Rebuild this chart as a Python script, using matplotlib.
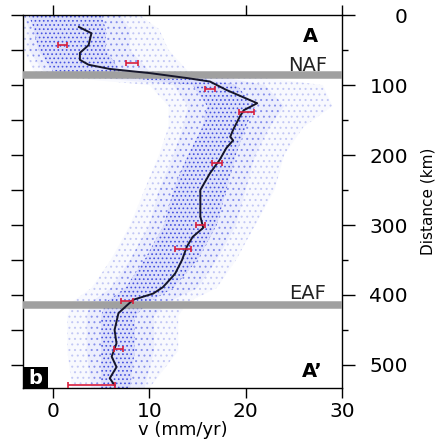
"""
Perfil de velocidad a lo largo del corte A-A' (panel b)
"""

import matplotlib.pyplot as plt
from matplotlib.patches import Rectangle
from matplotlib.ticker import MultipleLocator

plt.rcParams['font.family'] = ['DejaVu Sans']
plt.rcParams['hatch.linewidth'] = 0.7

# Perfil medio (v en mm/yr, distancia en km)
perfil_dist = [17, 26, 43, 54, 64, 71, 77, 83, 90, 95, 107, 126, 136, 145, 164,
               174, 179, 190, 207, 226, 250, 288, 304, 317, 331, 350, 369, 374,
               389, 398, 407, 426, 450, 469, 488, 503, 519, 529]
perfil_v = [2.7, 4.0, 3.7, 2.8, 2.8, 3.7, 5.9, 10.1, 13.9, 16.3, 18.0, 21.2, 19.8,
            19.4, 18.7, 18.4, 18.7, 18.0, 17.3, 16.3, 15.3, 15.3, 15.6, 14.5, 13.9,
            13.4, 12.7, 12.4, 11.4, 10.4, 8.3, 6.8, 6.4, 6.6, 6.1, 6.6, 5.9, 6.4]

# Medias con barras de error
err_dist = [43, 69, 106, 139, 211, 300, 334, 409, 477, 529]
err_v = [1.0, 8.2, 16.3, 20.1, 17.0, 15.3, 13.5, 7.7, 6.8, 4.0]
err_xerr = [0.5, 0.6, 0.5, 0.8, 0.5, 0.5, 0.8, 0.6, 0.5, 2.4]

# Extension de la nube de observaciones: nucleo, zona media y envolvente
nube_dist = [0, 20, 50, 80, 90, 100, 130, 160, 200, 250, 300, 350, 390, 410, 430, 480, 533]
nucleo_min = [-2.5, -2.0, -1.5, 0.0, 8.0, 14.5, 16.0, 15.5, 14.0, 12.5, 11.5, 9.5, 7.5, 5.5, 5.0, 5.0, 5.0]
nucleo_max = [5.0, 5.5, 5.5, 7.0, 15.0, 19.0, 21.0, 20.0, 19.0, 18.0, 17.0, 15.0, 12.5, 10.0, 8.5, 8.5, 8.0]
medio_min = [-3.0, -2.5, -2.5, -1.0, 5.0, 12.5, 14.0, 13.5, 12.5, 11.0, 10.0, 8.0, 6.0, 4.0, 3.5, 3.5, 4.0]
medio_max = [7.0, 8.0, 8.0, 10.0, 18.0, 22.0, 24.0, 22.5, 21.0, 20.0, 19.0, 17.0, 15.0, 12.0, 10.5, 10.5, 9.5]
envol_min = [-3.0, -3.0, -3.0, -2.0, 2.0, 10.0, 12.0, 12.0, 11.0, 9.5, 8.0, 6.0, 4.0, 2.0, 1.5, 1.5, 2.0]
envol_max = [9.0, 11.0, 12.0, 14.0, 22.0, 28.0, 29.0, 26.0, 24.0, 23.0, 21.0, 19.0, 17.0, 14.0, 13.0, 13.0, 10.0]

# Fallas
fallas = {'NAF': 86, 'EAF': 414}
etiqueta_falla = {'NAF': 72, 'EAF': 398}

fig = plt.figure(figsize=(4.43, 4.43), dpi=100)
ax = fig.add_axes([0.052, 0.124, 0.720, 0.842])

# Nube de puntos como punteado azul, mas denso hacia el centro
ax.fill_betweenx(nube_dist, envol_min, envol_max, facecolor='#f8f9fe',
                 edgecolor='#c2c7f4', hatch='...', linewidth=0, zorder=1)
ax.fill_betweenx(nube_dist, medio_min, medio_max, facecolor='#eceefd',
                 edgecolor='#8790ec', hatch='...', linewidth=0, zorder=1.5)
ax.fill_betweenx(nube_dist, nucleo_min, nucleo_max, facecolor='#dcdffb',
                 edgecolor='#4652e0', hatch='....', linewidth=0, zorder=2)

# Fallas
for nombre, d in fallas.items():
    ax.axhline(d, color='#a0a0a0', linewidth=5.4, zorder=3)
    ax.text(26.4, etiqueta_falla[nombre], nombre, fontsize=14, ha='center',
            va='center', color='#222222', zorder=4)

ax.plot(perfil_v, perfil_dist, color='#15152a', linewidth=1.4, zorder=5)
ax.errorbar(err_v, err_dist, xerr=err_xerr, fmt='none', ecolor='#d81e3c',
            elinewidth=1.2, capsize=2.5, capthick=1.2, zorder=6)

ax.text(26.7, 31, 'A', fontsize=14, fontweight='bold', ha='center', va='center')
ax.text(26.9, 510, 'A\u2019', fontsize=14, fontweight='bold', ha='center', va='center')

# Recuadro con la letra del panel
ax.add_patch(Rectangle((-3.1, 503), 2.6, 30, facecolor='black', edgecolor='none',
                       zorder=7, clip_on=False))
ax.text(-1.8, 519, 'b', fontsize=14, fontweight='bold', color='white',
        ha='center', va='center', zorder=8)

ax.set_xlim(-3.1, 30)
ax.set_ylim(533, 0)
ax.set_xticks([0, 10, 20, 30])
ax.yaxis.set_major_locator(MultipleLocator(100))
ax.yaxis.set_minor_locator(MultipleLocator(50))
ax.tick_params(axis='x', which='both', direction='out', top=True, labeltop=False,
               length=7, width=1, labelsize=14.5, pad=3)
ax.tick_params(axis='y', which='both', direction='out', left=True, right=True,
               labelleft=False, labelright=True, width=1)
ax.tick_params(axis='y', which='major', length=9.5, labelsize=14.5, pad=38)
ax.tick_params(axis='y', which='minor', length=4.5)
for lbl in ax.get_yticklabels():
    lbl.set_horizontalalignment('right')
ax.set_xlabel('v (mm/yr)', fontsize=13, labelpad=0)
ax.yaxis.set_label_position('right')
ax.set_ylabel('Distance (km)', fontsize=11, labelpad=9)

# Marcas de la izquierda a cada 50 km, todas iguales
for t in ax.yaxis.get_major_ticks() + ax.yaxis.get_minor_ticks():
    t.tick1line.set_markersize(9)

for spine in ax.spines.values():
    spine.set_linewidth(1)

plt.savefig('out.png', dpi=100)
